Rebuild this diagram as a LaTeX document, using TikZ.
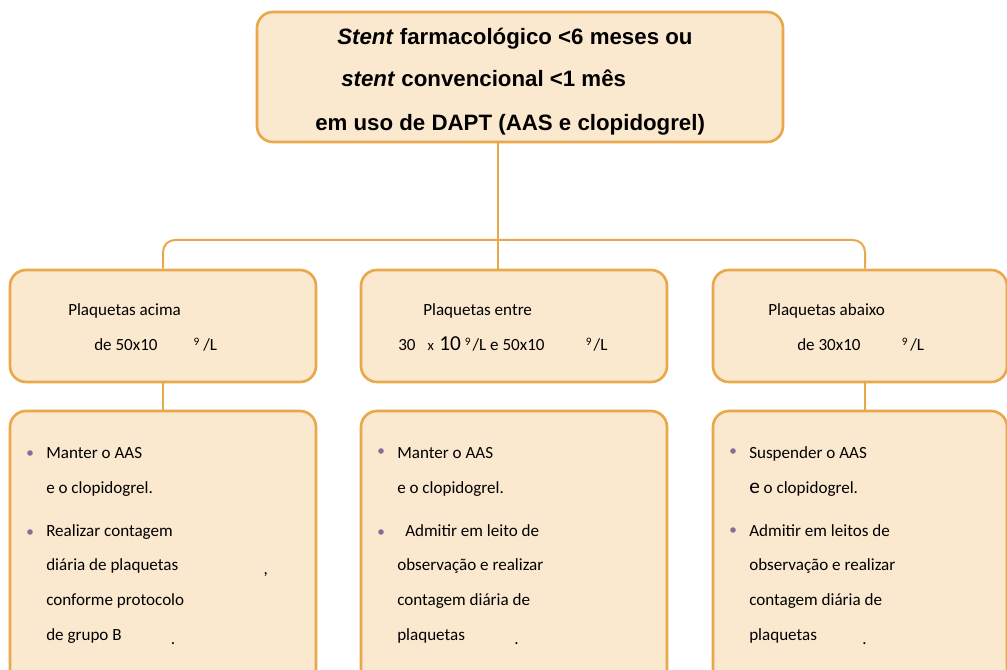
\documentclass[tikz,border=0pt]{standalone}
\usepackage{fontspec}
\setmainfont{Carlito}
\newfontfamily\titlefont{Liberation Sans}

\definecolor{boxfill}{HTML}{FBE9CF}
\definecolor{boxline}{HTML}{E8A84B}
\definecolor{dotcol}{HTML}{8B6A9C}

\newcommand{\sups}[1]{\raisebox{4.5pt}{\fontsize{8.5}{9}\selectfont #1}}

\tikzstyle{box}=[draw=boxline, fill=boxfill, line width=2pt, rounded corners=12pt, inner sep=0pt]
\tikzstyle{link}=[draw=boxline, line width=1.5pt]
\tikzstyle{title}=[anchor=base west, inner sep=0pt, font=\titlefont\bfseries\fontsize{16.7}{20}\selectfont]
\tikzstyle{txt}=[anchor=base west, inner sep=0pt, font=\fontsize{12.8}{15}\selectfont]
\tikzstyle{item}=[anchor=base west, inner sep=0pt, align=left, font=\fontsize{12.8}{26}\selectfont]
\tikzstyle{dot}=[circle, fill=dotcol, inner sep=0pt, minimum size=4.2pt]

\begin{document}
\begin{tikzpicture}[x=0.75pt, y=-0.75pt]
    \useasboundingbox (0,0) rectangle (1007,670);
    \clip (0,0) rectangle (1007,670);
    \node[box, minimum width=394.5pt, minimum height=97.5pt] (top) at (520,77) {};
    \node[title] (t1) at (337,45) {\textit{Stent} farmacológico <6 meses ou};
    \node[title] (t2) at (341,87) {\textit{stent} convencional <1 mês};
    \node[title] (t3) at (315,131) {em uso de DAPT (AAS e clopidogrel)};
    \node[box, minimum width=229.5pt, minimum height=84pt] (plaqA) at (163,326) {};
    \node[box, minimum width=229.5pt, minimum height=84pt] (plaqB) at (514,326) {};
    \node[box, minimum width=220.5pt, minimum height=84pt] (plaqC) at (860,326) {};
    \node[txt] (pA1) at (68,316) {Plaquetas acima};
    \node[txt] (pA2) at (94,351) {de 50x10\hspace{27pt}\sups{9}\hspace{3pt}/L};
    \node[txt] (pB1) at (423,316) {Plaquetas entre};
    \node[txt] (pB2) at (398,351) {30\hspace{9pt}{\fontsize{11}{12}\selectfont x}\hspace{4pt}{\fontsize{16}{18}\selectfont 10}\hspace{3pt}\sups{9}\hspace{1.5pt}/L e 50x10\hspace{31pt}\sups{9}\hspace{1.5pt}/L};
    \node[txt] (pC1) at (768,316) {Plaquetas abaixo};
    \node[txt] (pC2) at (797,351) {de 30x10\hspace{31pt}\sups{9}\hspace{2pt}/L};
    \node[box, minimum width=229.5pt, minimum height=217.5pt] (condA) at (163,556) {};
    \node[box, minimum width=229.5pt, minimum height=217.5pt] (condB) at (514,556) {};
    \node[box, minimum width=220.5pt, minimum height=217.5pt] (condC) at (860,556) {};
    \node[dot] (bA1) at (30,453) {};
    \node[dot] (bA2) at (30,532) {};
    \node[dot] (bB1) at (381,451) {};
    \node[dot] (bB2) at (381,532) {};
    \node[dot] (bC1) at (733,451) {};
    \node[dot] (bC2) at (733,530) {};
    \node[item] (iA1) at (46,493) {Manter o AAS\\e o clopidogrel.};
    \node[item] (iA2) at (46,640) {Realizar contagem\\diária de plaquetas\hspace{64pt}\raisebox{-3pt}{,}\\conforme protocolo\\de grupo B\hspace{37pt}\raisebox{-3.5pt}{.}};
    \node[item] (iB1) at (397,493) {Manter o AAS\\e o clopidogrel.};
    \node[item] (iB2) at (397,640) {\hspace*{6pt}Admitir em leito de\\observação e realizar\\contagem diária de\\plaquetas\hspace{37pt}\raisebox{-3.5pt}{.}};
    \node[item] (iC1) at (749,493) {Suspender o AAS\\{\fontsize{16}{18}\selectfont e} o clopidogrel.};
    \node[item] (iC2) at (749,640) {Admitir em leitos de\\observação e realizar\\contagem diária de\\plaquetas\hspace{34pt}\raisebox{-3.5pt}{.}};
    \coordinate (barL) at (163,240);
    \coordinate (barM) at (498,240);
    \coordinate (barR) at (865,240);
    \draw[link] (barM |- top.south) -- (barM);
    \draw[link, rounded corners=9pt] (barL |- plaqA.north) -- (barL) -- (barR) -- (barR |- plaqC.north);
    \draw[link] (barM) -- (barM |- plaqB.north);
    \draw[link] (plaqA.south) -- (condA.north);
    \draw[link] (barR |- plaqC.south) -- (barR |- condC.north);
  \end{tikzpicture}
\end{document}
